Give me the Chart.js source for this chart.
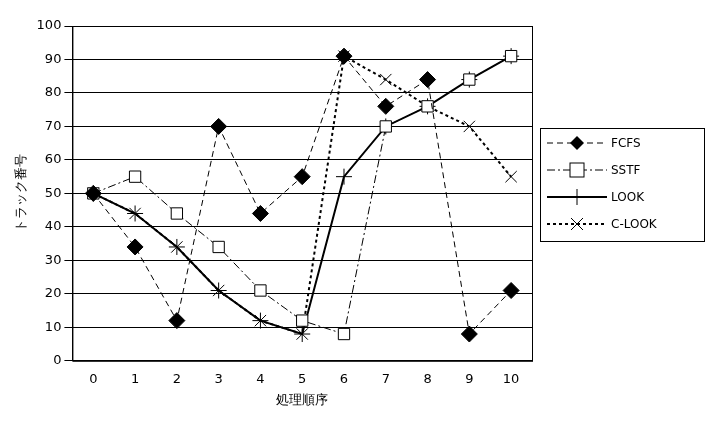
<!DOCTYPE html>
<html><head><meta charset="utf-8">
<script src="https://cdn.jsdelivr.net/npm/chart.js@4"></script>
<style>
body{margin:0;background:#fff;font-family:"Noto Sans CJK JP",sans-serif}
#wrap{position:relative;width:708px;height:430px}
#legend{position:absolute;left:540px;top:128px;width:165px;height:114px;border:1px solid #000;box-sizing:border-box;font:12px "DejaVu Sans",sans-serif}
#legend div{height:26px;display:flex;align-items:center;padding-left:6px;margin-top:1px}
#legend svg{margin-right:4px}
</style></head><body>
<div id="wrap"><canvas id="c" width="708" height="430"></canvas>
<div id="legend"></div></div>
<script>
const labels = ['0','1','2','3','4','5','6','7','8','9','10'];
const fcfs  = [50, 34, 12, 70, 44, 55, 91, 76, 84, 8, 21];
const sstf  = [50, 55, 44, 34, 21, 12, 8, 70, 76, 84, 91];
const look  = [50, 44, 34, 21, 12, 8, 55, 70, 76, 84, 91];
const clook = [50, 44, 34, 21, 12, 8, 91, 84, 76, 70, 55];

const series = [
  { label: 'FCFS', data: fcfs, dash: [6, 4], width: 1, style: 'rectRot', fill: '#000', r: 8 },
  { label: 'SSTF', data: sstf, dash: [8, 3, 2, 3], width: 1, style: 'rect', fill: '#fff', r: 8 },
  { label: 'LOOK', data: look, dash: [], width: 2, style: 'cross', fill: '#000', r: 8 },
  { label: 'C-LOOK', data: clook, dash: [3, 3], width: 2, style: 'crossRot', fill: '#000', r: 8 }
];

new Chart(document.getElementById('c'), {
  type: 'line',
  data: {
    labels,
    datasets: series.map(s => ({
      label: s.label, data: s.data,
      borderColor: '#000', borderWidth: s.width, borderDash: s.dash,
      pointStyle: s.style, pointRadius: s.r, pointBackgroundColor: s.fill,
      pointBorderColor: '#000', pointBorderWidth: 1, tension: 0
    }))
  },
  options: {
    responsive: false, animation: false,
    layout: { padding: { right: 176, top: 26, left: 10, bottom: 20 } },
    plugins: { legend: { display: false }, tooltip: { enabled: false } },
    scales: {
      x: {
        offset: true,
        grid: { display: false, drawTicks: true },
        border: { color: '#000' },
        ticks: { color: '#000', font: { size: 13, family: 'DejaVu Sans' } },
        title: { display: true, text: '処理順序', color: '#000', font: { size: 13 }, padding: 2 }
      },
      y: {
        min: 0, max: 100,
        ticks: { stepSize: 10, color: '#000', font: { size: 13, family: 'DejaVu Sans' } },
        grid: { color: '#000', tickColor: '#000' },
        border: { color: '#000' },
        title: { display: true, text: 'トラック番号', color: '#000', font: { size: 13 } }
      }
    }
  },
  plugins: [{
    id: 'frame',
    afterDraw(ch) {
      const a = ch.chartArea, g = ch.ctx;
      g.save(); g.strokeStyle = '#000'; g.lineWidth = 1;
      g.strokeRect(a.left + 0.5, a.top + 0.5, a.width, a.height);
      g.restore();
    }
  }]
});

// legend
const marks = {
  rectRot: '<polygon points="30,3 37,10 30,17 23,10" fill="#000"/>',
  rect: '<rect x="23" y="3" width="14" height="14" fill="#fff" stroke="#000"/>',
  cross: '<path d="M30,2V18M22,10H38" stroke="#000"/>',
  crossRot: '<path d="M24,4L36,16M36,4L24,16" stroke="#000"/>'
};
document.getElementById('legend').innerHTML = series.map(s =>
  `<div><svg width="60" height="20"><line x1="0" y1="10" x2="60" y2="10" stroke="#000" stroke-width="${s.width}" stroke-dasharray="${s.dash.join(' ')}"/>${marks[s.style]}</svg>${s.label}</div>`
).join('');
</script>
</body></html>
